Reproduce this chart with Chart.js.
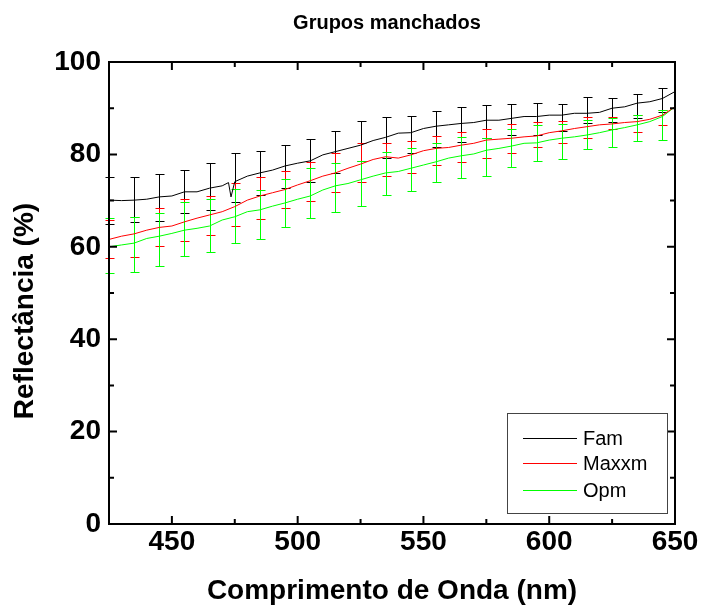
<!DOCTYPE html>
<html>
<head>
<meta charset="utf-8">
<script src="https://cdn.jsdelivr.net/npm/chart.js@4/dist/chart.umd.min.js"></script>
<style>
    body { margin: 0; background: #fff; }
</style>
</head>
<body>
<canvas id="reflectance-chart" width="706" height="611"></canvas>
<script>
// wavelength grid (nm) for the spectra
const wavelength = [425, 430, 435, 440, 445, 450, 455, 460, 465, 470, 475, 480, 485, 490, 495, 500,
    505, 510, 515, 520, 525, 530, 535, 540, 545, 550, 555, 560, 565, 570, 575, 580, 585, 590, 595, 600,
    605, 610, 615, 620, 625, 630, 635, 640, 645, 650];

// Fam has a narrow dip near 473 nm, so it gets its own x values
const famWavelength = [425, 430, 435, 440, 445, 450, 455, 460, 465, 470, 472.5, 473.5, 475, 480, 485, 490, 495, 500,
    505, 510, 515, 520, 525, 530, 535, 540, 545, 550, 555, 560, 565, 570, 575, 580, 585, 590, 595, 600,
    605, 610, 615, 620, 625, 630, 635, 640, 645, 650];
const famValues = [70.1, 70.0, 70.1, 70.3, 70.8, 71.0, 71.9, 71.9, 72.7, 73.2, 73.9, 70.8, 74.1, 75.3, 76.0, 76.6, 77.5, 78.1,
    78.6, 79.9, 80.6, 81.3, 82.0, 83.0, 83.7, 84.6, 84.7, 85.6, 86.1, 86.4, 86.7, 86.9, 87.4, 87.4, 87.8, 88.2, 88.2, 88.5,
    88.5, 88.9, 88.9, 89.1, 90.0, 90.3, 91.1, 91.4, 92.1, 93.6];
const maxxmValues = [61.6, 62.3, 62.8, 63.6, 64.2, 64.5, 65.4, 66.2, 66.9, 67.6, 68.7, 70.1, 71.0, 71.7, 72.4, 73.4,
    74.3, 75.3, 76.0, 77.0, 77.9, 78.9, 79.5, 79.2, 79.9, 80.8, 81.3, 81.5, 82.0, 82.4, 83.1, 83.3, 83.5, 83.8, 84.0, 84.7,
    85.1, 85.6, 86.0, 86.4, 86.6, 86.9, 87.1, 87.6, 88.5, 90.3];
const opmValues = [60.0, 60.4, 60.8, 61.8, 62.3, 62.9, 63.6, 64.0, 64.5, 65.8, 66.5, 67.6, 68.0, 68.8, 69.5, 70.3,
    71.0, 72.3, 73.2, 73.7, 74.5, 75.3, 76.0, 76.3, 77.0, 77.7, 78.4, 79.2, 79.7, 80.1, 80.9, 81.3, 81.8, 82.4, 82.5, 83.1,
    83.5, 83.8, 84.2, 84.7, 85.3, 85.8, 86.4, 87.1, 88.2, 90.3];

// error bars every 10 nm
const errWavelength = [425, 435, 445, 455, 465, 475, 485, 495, 505, 515, 525, 535, 545, 555, 565, 575, 585, 595, 605, 615, 625, 635, 645];
const famHigh = [75.2, 75.2, 75.7, 76.6, 78.2, 80.4, 80.8, 82.0, 83.3, 85.1, 87.2, 88.2, 88.4, 89.5, 90.3, 90.7, 90.9, 91.2, 90.9, 92.5, 92.1, 93.1, 94.3];
const famLow = [65.0, 65.3, 65.5, 67.3, 68.0, 69.8, 71.2, 72.8, 74.1, 75.9, 78.6, 79.3, 80.4, 81.7, 82.6, 83.6, 84.3, 84.2, 85.1, 86.7, 87.1, 87.8, 89.1];
const maxxmHigh = [65.8, 66.5, 68.5, 70.3, 71.1, 73.9, 75.1, 76.3, 78.4, 80.2, 82.4, 82.4, 82.9, 84.0, 84.9, 85.6, 86.5, 87.1, 87.2, 88.2, 88.2, 88.5, 89.6];
const maxxmLow = [57.5, 57.9, 60.2, 61.3, 62.5, 64.5, 66.0, 68.3, 69.9, 71.9, 74.1, 75.4, 76.0, 77.7, 78.4, 79.2, 80.2, 81.5, 82.4, 83.5, 85.5, 84.8, 86.4];
const opmHigh = [66.2, 66.4, 67.3, 69.6, 70.3, 72.5, 72.4, 74.7, 77.1, 78.1, 78.6, 80.6, 81.3, 82.5, 83.8, 83.6, 85.5, 86.4, 86.5, 87.4, 87.8, 88.5, 89.6];
const opmLow = [54.3, 54.6, 55.9, 58.0, 58.8, 60.9, 61.6, 64.3, 66.2, 67.6, 68.9, 71.2, 72.1, 74.0, 75.0, 75.3, 77.3, 78.6, 79.0, 81.2, 81.5, 83.0, 83.1];

const xTicks = [450, 500, 550, 600, 650];
const xMinorTicks = [475, 525, 575, 625];
const yTicks = [0, 20, 40, 60, 80, 100];
const yMinorTicks = [10, 30, 50, 70, 90];

const FONT = "'Liberation Sans', Arial, sans-serif";

const series = [
    { label: 'Fam', color: '#000000', x: famWavelength, y: famValues, hi: famHigh, lo: famLow },
    { label: 'Maxxm', color: '#ff0000', x: wavelength, y: maxxmValues, hi: maxxmHigh, lo: maxxmLow },
    { label: 'Opm', color: '#00ff00', x: wavelength, y: opmValues, hi: opmHigh, lo: opmLow }
];

const errorBars = {
    id: 'errorBars',
    beforeDatasetsDraw(chart) {
        const { ctx, scales: { x, y } } = chart;
        ctx.save();
        ctx.lineWidth = 1;
        series.forEach(s => {
            ctx.strokeStyle = s.color;
            errWavelength.forEach((w, i) => {
                const px = Math.round(x.getPixelForValue(w)) + 0.5;
                const top = Math.round(y.getPixelForValue(s.hi[i])) + 0.5;
                const bot = Math.round(y.getPixelForValue(s.lo[i])) + 0.5;
                ctx.beginPath();
                ctx.moveTo(px, top);
                ctx.lineTo(px, bot);
                ctx.moveTo(px - 4, top);
                ctx.lineTo(px + 5, top);
                ctx.moveTo(px - 4, bot);
                ctx.lineTo(px + 5, bot);
                ctx.stroke();
            });
        });
        ctx.restore();
    }
};

const frame = {
    id: 'frame',
    afterDatasetsDraw(chart) {
        const { ctx, chartArea: a, scales: { x, y } } = chart;
        ctx.save();
        ctx.strokeStyle = '#000';
        ctx.lineWidth = 2;
        ctx.strokeRect(a.left, a.top, a.right - a.left, a.bottom - a.top);
        const tick = (vals, len, horiz) => {
            vals.forEach(v => {
                ctx.beginPath();
                if (horiz) {
                    const px = x.getPixelForValue(v);
                    ctx.moveTo(px, a.bottom); ctx.lineTo(px, a.bottom - len);
                    ctx.moveTo(px, a.top); ctx.lineTo(px, a.top + len);
                } else {
                    const py = y.getPixelForValue(v);
                    ctx.moveTo(a.left, py); ctx.lineTo(a.left + len, py);
                    ctx.moveTo(a.right, py); ctx.lineTo(a.right - len, py);
                }
                ctx.stroke();
            });
        };
        tick(xTicks, 8, true);
        tick(xMinorTicks, 5, true);
        tick(yTicks, 8, false);
        tick(yMinorTicks, 5, false);

        // chart title and y axis title
        ctx.fillStyle = '#000';
        ctx.font = 'bold 20px ' + FONT;
        ctx.textAlign = 'center';
        ctx.textBaseline = 'middle';
        ctx.fillText('Grupos manchados', (a.left + a.right) / 2 - 5, 23);

        ctx.translate(25, 311);
        ctx.rotate(-Math.PI / 2);
        ctx.font = 'bold 28px ' + FONT;
        ctx.fillText('Reflectância (%)', 0, 0);
        ctx.restore();
    }
};

const legendBox = {
    id: 'legendBox',
    afterDraw(chart) {
        const { ctx, chartArea: a } = chart;
        const left = Math.round(a.right - 168), top = Math.round(a.bottom - 111);
        ctx.save();
        ctx.fillStyle = '#fff';
        ctx.fillRect(left, top, 160, 100);
        ctx.strokeStyle = '#444';
        ctx.lineWidth = 1;
        ctx.strokeRect(left + 0.5, top + 0.5, 160, 100);
        ctx.font = '20px ' + FONT;
        ctx.textBaseline = 'middle';
        ctx.textAlign = 'left';
        [25, 50, 77].forEach((dy, i) => {
            ctx.strokeStyle = series[i].color;
            ctx.beginPath();
            ctx.moveTo(left + 16, top + dy + 0.5);
            ctx.lineTo(left + 70, top + dy + 0.5);
            ctx.stroke();
            ctx.fillStyle = '#000';
            ctx.fillText(series[i].label, left + 76, top + dy + 1);
        });
        ctx.restore();
    }
};

const ctx = document.getElementById('reflectance-chart').getContext('2d');
new Chart(ctx, {
    type: 'line',
    data: {
        datasets: series.map(s => ({
            label: s.label,
            data: s.x.map((w, i) => ({ x: w, y: s.y[i] })),
            borderColor: s.color,
            borderWidth: 1,
            pointRadius: 0,
            tension: 0
        }))
    },
    options: {
        responsive: false,
        animation: false,
        layout: { padding: { top: 62, right: 31 } },
        plugins: {
            legend: { display: false },
            tooltip: { enabled: false }
        },
        scales: {
            x: {
                type: 'linear',
                min: 425,
                max: 650,
                afterBuildTicks: scale => { scale.ticks = xTicks.map(v => ({ value: v })); },
                afterFit: scale => { scale.height = 87; },
                grid: { display: false, drawTicks: false },
                border: { display: false },
                ticks: { color: '#000', padding: 1, maxRotation: 0, font: { family: FONT, size: 28, weight: 'bold' } },
                title: {
                    display: true,
                    text: 'Comprimento de Onda (nm)',
                    color: '#000',
                    font: { family: FONT, size: 28, weight: 'bold' },
                    padding: { top: 3, bottom: 3 }
                }
            },
            y: {
                min: 0,
                max: 100,
                afterBuildTicks: scale => { scale.ticks = yTicks.map(v => ({ value: v })); },
                afterFit: scale => { scale.width = 109; },
                grid: { display: false, drawTicks: false },
                border: { display: false },
                ticks: { color: '#000', padding: 8, font: { family: FONT, size: 28, weight: 'bold' } }
            }
        }
    },
    plugins: [errorBars, frame, legendBox]
});
</script>
</body>
</html>
